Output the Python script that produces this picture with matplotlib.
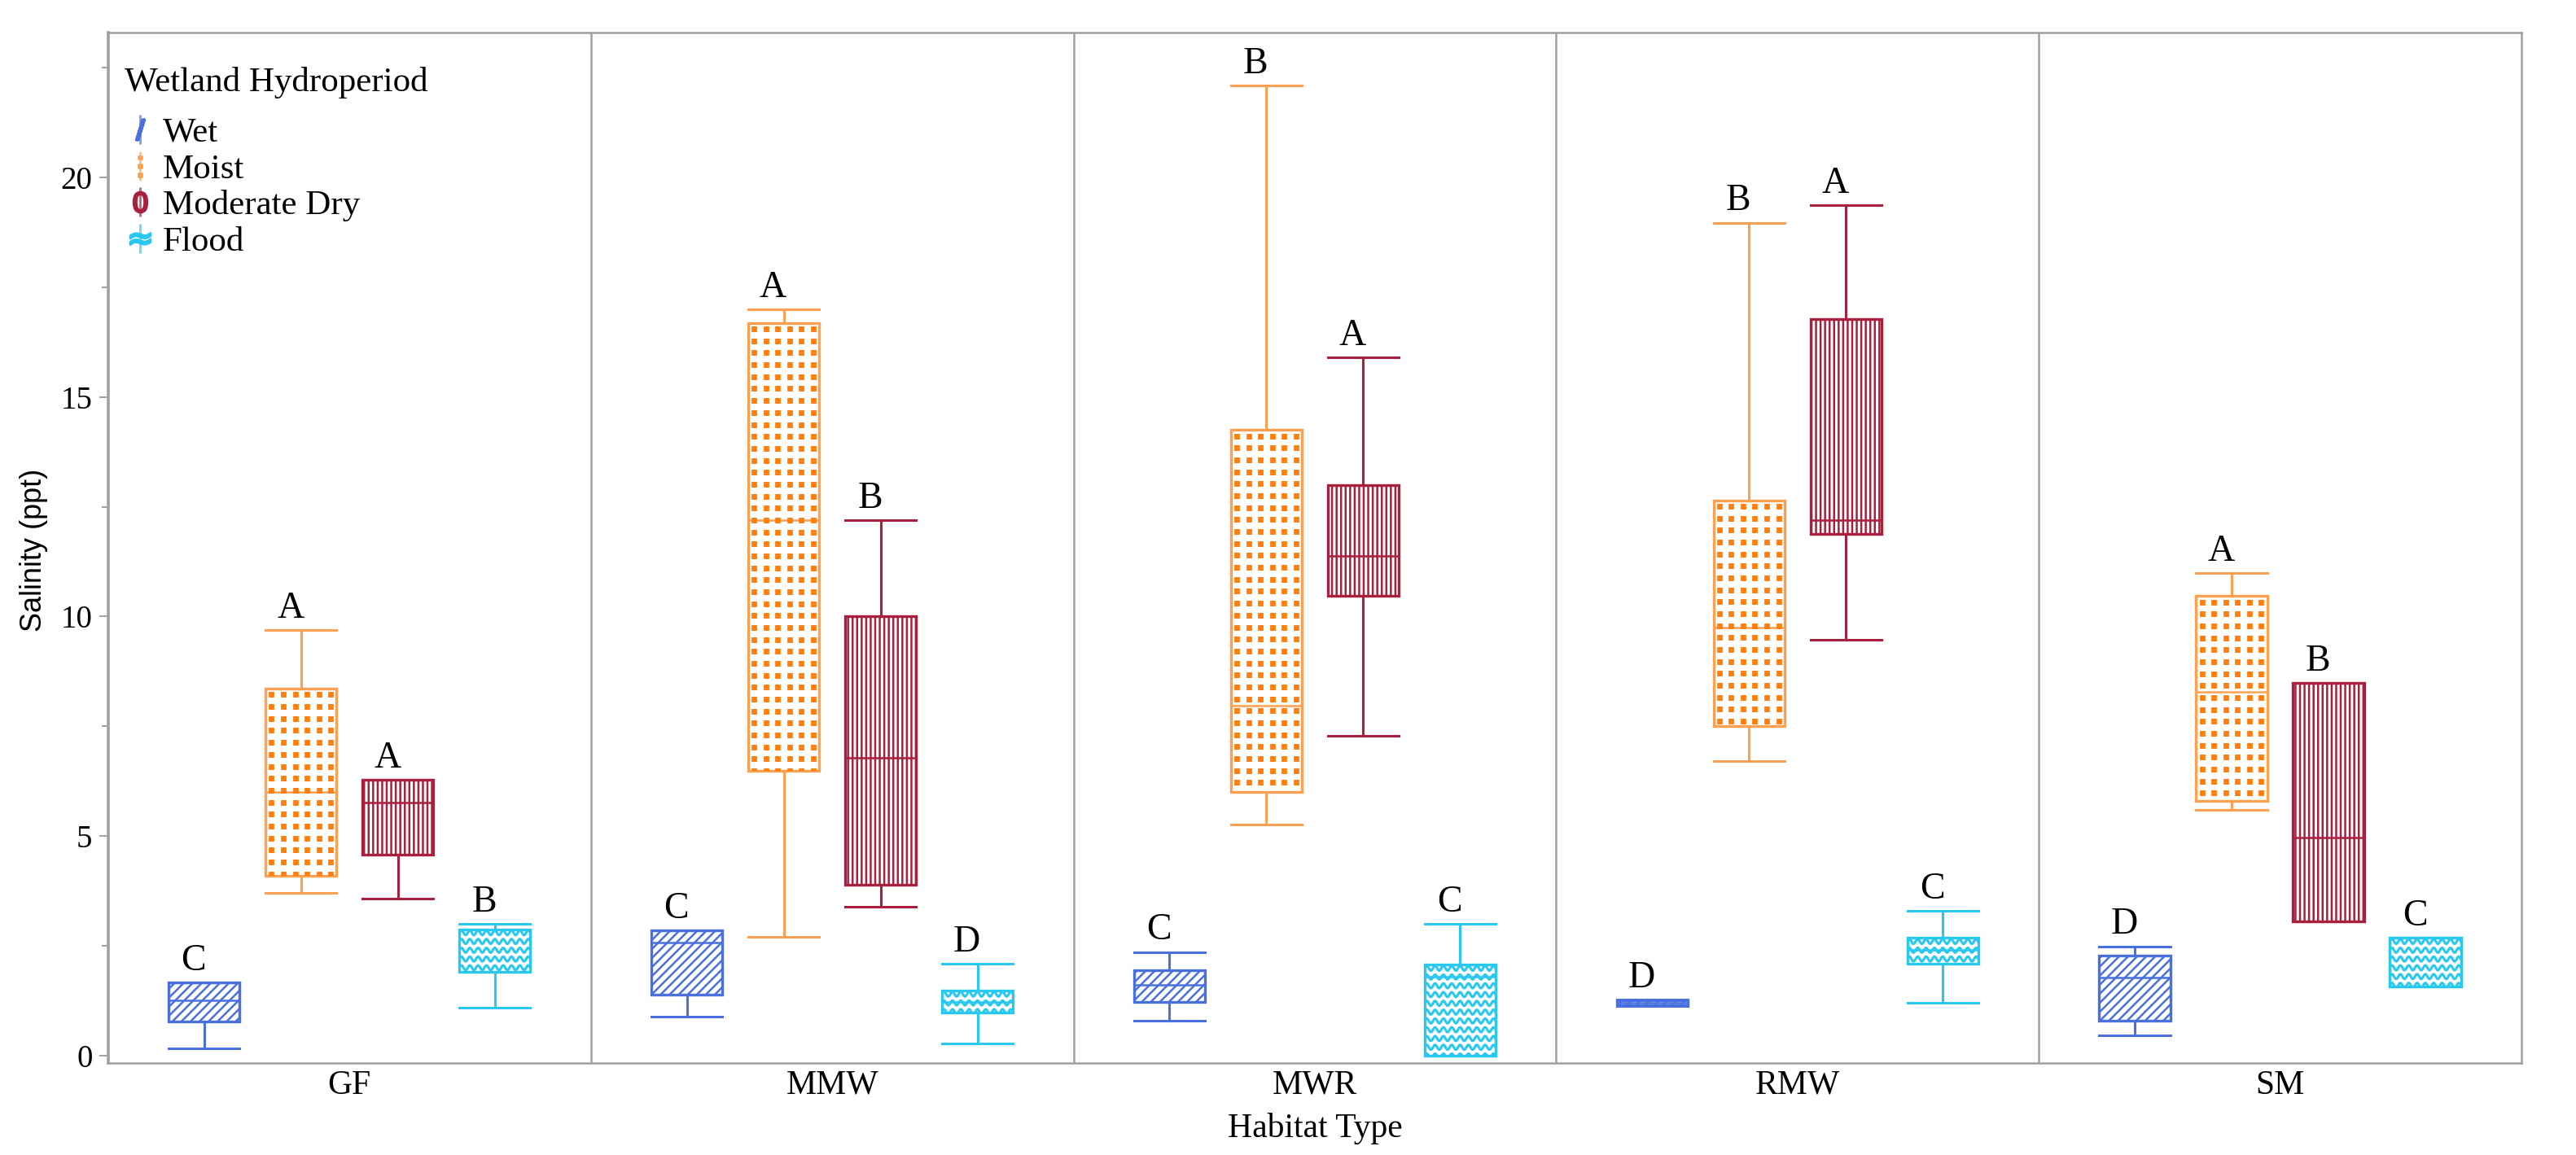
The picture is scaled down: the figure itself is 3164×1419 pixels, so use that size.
import numpy as np
import matplotlib.pyplot as plt
from matplotlib.lines import Line2D
from matplotlib.legend_handler import HandlerTuple
from matplotlib.ticker import MultipleLocator

plt.rcParams['font.family'] = ['Liberation Serif', 'DejaVu Serif']
plt.rcParams['hatch.linewidth'] = 0.9

habitats = ["GF", "MMW", "MWR", "RMW", "SM"]
hydroperiods = ["Wet", "Moist", "Moderate Dry", "Flood"]

# (whisker low, Q1, median, Q3, whisker high) for GF, MMW, MWR, RMW, SM
wet = [(0.17, 0.78, 1.25, 1.66, 1.66), (0.88, 1.39, 2.58, 2.85, 2.85),
       (0.80, 1.22, 1.61, 1.95, 2.36), (1.12, 1.14, 1.20, 1.25, 1.27),
       (0.47, 0.80, 1.78, 2.27, 2.49)]
moist = [(3.70, 4.10, 6.00, 8.36, 9.70), (2.70, 6.48, 12.20, 16.69, 17.00),
         (5.26, 6.00, 7.97, 14.25, 22.09), (6.70, 7.50, 9.75, 12.65, 18.97),
         (5.60, 5.80, 8.28, 10.47, 10.99)]
mod_dry = [(3.58, 4.58, 5.77, 6.28, 6.28), (3.39, 3.90, 6.79, 10.01, 12.20),
           (7.29, 10.48, 11.38, 12.99, 15.90), (9.48, 11.89, 12.20, 16.78, 19.37),
           (3.05, 3.05, 4.97, 8.48, 8.48)]
flood = [(1.09, 1.90, 2.88, 2.88, 3.00), (0.27, 0.98, 1.22, 1.48, 2.09),
         (0.00, 0.00, 1.79, 2.07, 3.00), (1.20, 2.10, 2.40, 2.68, 3.29),
         (1.58, 1.58, 2.68, 2.68, 2.68)]

# Tukey letters above each box
wet_letters = ["C", "C", "C", "D", "D"]
moist_letters = ["A", "A", "B", "B", "A"]
mod_dry_letters = ["A", "B", "A", "A", "B"]
flood_letters = ["B", "D", "C", "C", "C"]

series = [wet, moist, mod_dry, flood]
letters = [wet_letters, moist_letters, mod_dry_letters, flood_letters]
edge_colors = ['#4a70e0', '#ffa050', '#a8203e', '#28c8f0']
hatches = ['//////', '', '||||||', '']

spacing = 0.2007
box_w = 0.147

fig = plt.figure(figsize=(15.82, 7.095), dpi=200)
ax = fig.add_axes([0.042, 0.0796, 0.9368, 0.8922])

for k, (data, color) in enumerate(zip(series, edge_colors)):
    positions = np.arange(len(habitats)) + (k - 1.5) * spacing
    stats = [dict(whislo=d[0], q1=d[1], med=d[2], q3=d[3], whishi=d[4], fliers=[])
             for d in data]
    res = ax.bxp(stats, positions=positions, widths=box_w, capwidths=box_w,
                 patch_artist=True, showfliers=False, manage_ticks=False,
                 boxprops=dict(facecolor='white', edgecolor=color, linewidth=1.2),
                 whiskerprops=dict(color=color, linewidth=1.1),
                 capprops=dict(color=color, linewidth=1.1),
                 medianprops=dict(color=color, linewidth=0.9))
    for box, pos, d in zip(res['boxes'], positions, data):
        box.set_hatch(hatches[k])
        x0, x1 = pos - box_w / 2, pos + box_w / 2
        if hydroperiods[k] == "Moist":
            dx = box_w / 6
            xs = np.linspace(x0 + dx / 2, x1 - dx / 2, 6)
            ys = np.arange(d[3] - 0.14, d[1], -0.272)
            X, Y = np.meshgrid(xs, ys)
            ax.plot(X.ravel(), Y.ravel(), 's', ms=1.7, color='#ff7f0e',
                    clip_path=box, zorder=box.get_zorder() + 0.1)
        if hydroperiods[k] == "Flood":
            xs = np.linspace(x0, x1, 300)
            wl = box_w / 8.5
            for row in np.arange(d[3] - 0.08, d[1] - 0.2, -0.2):
                ys = row + 0.055 * np.sin(2 * np.pi * (xs - x0) / wl)
                ax.plot(xs, ys, color='#28c8f0', lw=1.1, clip_path=box,
                        zorder=box.get_zorder() + 0.1)
    for pos, d, lab in zip(positions, data, letters[k]):
        ax.text(pos - 0.022, d[4] + 0.28, lab, ha='center', va='baseline',
                fontsize=16.5, color='black')

# group separators
for i in range(1, len(habitats)):
    ax.axvline(i - 0.5, color='#a0a0a0', lw=0.9)

ax.set_xlim(-0.5, len(habitats) - 0.5)
ax.set_ylim(-0.17, 23.3)
ax.set_xticks(range(len(habitats)))
ax.set_xticklabels(habitats, fontsize=15)
ax.tick_params(axis='x', length=0, pad=3)
ax.yaxis.set_major_locator(MultipleLocator(5))
ax.yaxis.set_minor_locator(MultipleLocator(2.5))
ax.tick_params(axis='y', which='major', length=4, width=0.6, color='#909090',
               labelsize=14, pad=3)
ax.tick_params(axis='y', which='minor', length=3, width=0.6, color='#909090')
for sp in ax.spines.values():
    sp.set_color('#a0a0a0')
    sp.set_linewidth(0.9)
ax.spines['left'].set_linewidth(1.3)

ax.set_xlabel("Habitat Type", fontsize=15, labelpad=5)
ax.set_ylabel("Salinity (ppt)", fontsize=13, family='Liberation Sans')
ax.yaxis.set_label_coords(-0.025, 0.498)

# legend: title as its own text, entries below it
ax.text(0.0068, 0.9515, "Wetland Hydroperiod", transform=ax.transAxes,
        fontsize=15.5, ha='left', va='center')
markers = [r'$/\!\!/$', r'$\vdots$', r'$\mathsf{0}$', r'$\approx$']
handles = []
for c, m in zip(edge_colors, markers):
    stem = Line2D([], [], marker='|', ms=13, mew=1.0, color=c, ls='none', alpha=0.7)
    glyph = Line2D([], [], marker=m, ms=9, color=c, ls='none')
    handles.append((stem, glyph))
ax.legend(handles, hydroperiods, handler_map={tuple: HandlerTuple(ndivide=1, pad=0)},
          loc='upper left', bbox_to_anchor=(0.006, 0.918), frameon=False,
          fontsize=15.5, handlelength=1.0, handletextpad=0.15,
          labelspacing=0.13, borderpad=0, borderaxespad=0)

fig.savefig("out.png", dpi=200)
